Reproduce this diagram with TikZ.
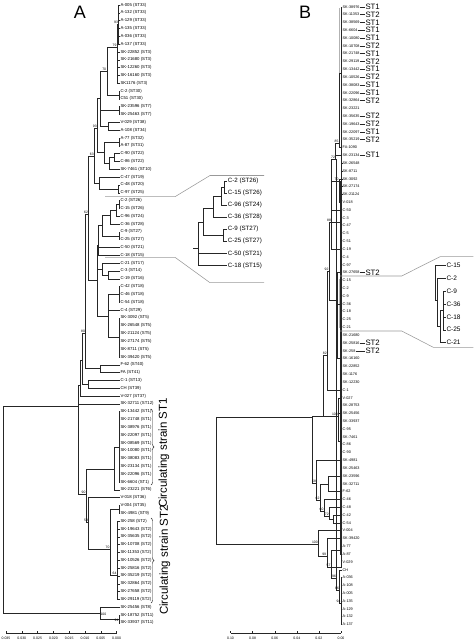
\documentclass[tikz,border=0pt]{standalone}
\usepackage{fontspec}
\setmainfont{Liberation Sans}
\usetikzlibrary{decorations.pathreplacing}
\tikzset{
  tr/.style={draw=black!85, line width=0.35pt},
  co/.style={draw=black!40, line width=0.55pt},
  hl/.style={draw=black!30, line width=1.0pt},
  lfa/.style={anchor=west, inner sep=0.3pt, font=\fontsize{4.3}{5}\selectfont},
  lfb/.style={anchor=west, inner sep=0.3pt, font=\fontsize{3.8}{4.5}\selectfont},
  stl/.style={anchor=west, inner sep=0.3pt, font=\fontsize{7.8}{9}\selectfont},
  bs/.style={anchor=south east, inner sep=0.4pt, font=\fontsize{3.4}{4}\selectfont},
  ila/.style={anchor=west, inner sep=0.6pt, font=\fontsize{6.2}{7}\selectfont},
  ilb/.style={anchor=west, inner sep=0.8pt, font=\fontsize{6.5}{7.5}\selectfont},
  axl/.style={inner sep=0.3pt, font=\fontsize{3.5}{4}\selectfont},
  ttl/.style={inner sep=0pt, font=\fontsize{18}{20}\selectfont},
  cst/.style={rotate=90, inner sep=0pt, font=\fontsize{11.5}{13}\selectfont},
  brc/.style={draw=black!85, line width=0.45pt, decorate, decoration={brace, amplitude=3pt}}
}
\newcommand\ed[2]{\draw[tr] (#1) |- (#2);}
\newcommand\lvA[3]{\foreach \k in {#2,...,#3}{\draw[tr] (#1) |- (a\k.west);}}
\newcommand\lvB[3]{\foreach \k in {#2,...,#3}{\draw[tr] (#1) |- (b\k.west);}}
\newcommand\bsl[2]{\node[bs] (l#1) at (#1) {#2};}
\begin{document}
\begin{tikzpicture}[x=1pt,y=-1pt]
\useasboundingbox (0,0) rectangle (474,643);
% titles
\node[ttl] (tA) at (80,12) {A};
\node[ttl] (tB) at (305,12) {B};
% ---------------- panel A leaves
\foreach \i/\t in {1/A-005 (ST33),2/A-132 (ST33),3/A-129 (ST33),4/A-135 (ST33),5/A-036 (ST33),6/A-137 (ST33),7/SK-22852 (ST3),8/SK-21680 (ST3),9/SK-12260 (ST3),10/SK-16160 (ST3),11/SK1176 (ST3),12/C-2 (ST30),13/C51 (ST30),14/SK-23596 (ST7),15/SK-25463 (ST7),16/V-029 (ST38),17/A-108 (ST34),18/A-77 (ST32),19/A-87 (ST31),20/C-90 (ST22),21/C-86 (ST22),22/SK-7461 (ST10),23/C-47 (ST19),24/C-48 (ST20),25/C-97 (ST25),26/C-2 (ST26),27/C-15 (ST26),28/C-96 (ST24),29/C-36 (ST28),30/C-9 (ST27),31/C-25 (ST27),32/C-50 (ST21),33/C-18 (ST15),34/C-21 (ST17),35/C-3 (ST14),36/C-19 (ST16),37/C-42 (ST18),38/C-46 (ST18),39/C-54 (ST18),40/C-4 (ST29),41/SK-3092 (ST5),42/SK-26548 (ST5),43/SK-21124 (ST5),44/SK-27174 (ST5),45/SK-8711 (ST5),46/SK-39420 (ST5),47/F-62 (ST40),48/FA (ST41),49/C-1 (ST13),50/CH (ST39),51/V-027 (ST37),52/SK-32711 (ST12),53/SK-13442 (ST1),54/SK-21748 (ST1),55/SK-38976 (ST1),56/SK-22097 (ST1),57/SK-08569 (ST1),58/SK-10080 (ST1),59/SK-38083 (ST1),60/SK-23134 (ST1),61/SK-22096 (ST1),62/SK-6604 (ST1),63/SK-23221 (ST6),64/V-018 (ST36),65/V-004 (ST35),66/SK-4981 (ST9),67/SK-258 (ST2),68/SK-19643 (ST2),69/SK-35635 (ST2),70/SK-10708 (ST2),71/SK-11353 (ST2),72/SK-10526 (ST2),73/SK-25816 (ST2),74/SK-35219 (ST2),75/SK-32864 (ST2),76/SK-27658 (ST2),77/SK-29119 (ST2),78/SK-25456 (ST8),79/SK-18752 (ST11),80/SK-33937 (ST11)}
  {\node[lfa] (a\i) at (120,{5+7.82*(\i-1)}) {\t};}
% panel A internal nodes
\coordinate (na1) at (118.6,24.55);
\coordinate (na2) at (117,47);
\coordinate (na3) at (119,94.9);
\coordinate (na4) at (106.7,71);
\coordinate (na5) at (119,110.6);
\coordinate (na6) at (108.3,126.2);
\coordinate (na7) at (100,98);
\coordinate (na8) at (119,141.9);
\coordinate (na9) at (114,157.5);
\coordinate (na10) at (109,163);
\coordinate (na11) at (104,152);
\coordinate (na12) at (97.3,128);
\coordinate (na13) at (118.6,188.8);
\coordinate (na14) at (99,183);
\coordinate (na15) at (94.3,156);
\coordinate (ni1) at (119,204.4);
\coordinate (ni2) at (116,210);
\coordinate (ni3) at (110,215);
\coordinate (ni5) at (119,235.7);
\coordinate (ni4) at (102,225);
\coordinate (ni6) at (97.8,245);
\coordinate (nq1) at (108,274.8);
\coordinate (nq2) at (101.7,269);
\coordinate (nr1) at (119,294.3);
\coordinate (nr2) at (119,337.35);
\coordinate (nr3) at (108.3,316);
\coordinate (ns1) at (96.7,280);
\coordinate (n62) at (88.5,214);
\coordinate (nfp) at (100,368.6);
\coordinate (n80) at (85.5,333);
\coordinate (nch) at (88,384.3);
\coordinate (nu) at (82,360);
\coordinate (nv) at (80,385);
\coordinate (nst1) at (119,446.8);
\coordinate (nk1) at (114,469);
\coordinate (nvp) at (119,509.4);
\coordinate (nst2) at (117,575);
\coordinate (nw1) at (110,549);
\coordinate (nw2) at (88.5,522);
\coordinate (nk2) at (86,494);
\coordinate (nT) at (77.7,406);
\coordinate (nb1) at (119,618.9);
\coordinate (nb2) at (100,613);
\coordinate (nR) at (3.3,509.5);
% panel A edges
\lvA{na1}{1}{6} \ed{na2}{na1} \lvA{na2}{7}{11} \lvA{na3}{12}{13}
\ed{na4}{na2} \ed{na4}{na3} \lvA{na5}{14}{15} \lvA{na6}{16}{17}
\ed{na7}{na4} \ed{na7}{na5} \ed{na7}{na6}
\lvA{na8}{18}{19} \lvA{na9}{20}{21} \ed{na10}{na9} \lvA{na10}{22}{22}
\ed{na11}{na8} \ed{na11}{na10} \ed{na12}{na7} \ed{na12}{na11}
\lvA{na13}{24}{25} \lvA{na14}{23}{23} \ed{na14}{na13}
\ed{na15}{na12} \ed{na15}{na14}
\lvA{ni1}{26}{27} \ed{ni2}{ni1} \lvA{ni2}{28}{28} \ed{ni3}{ni2} \lvA{ni3}{29}{29}
\lvA{ni5}{30}{31} \ed{ni4}{ni3} \ed{ni4}{ni5} \ed{ni6}{ni4} \lvA{ni6}{32}{33}
\lvA{nq1}{35}{36} \ed{nq2}{nq1} \lvA{nq2}{34}{34}
\lvA{nr1}{37}{39} \lvA{nr2}{41}{46} \ed{nr3}{nr1} \ed{nr3}{nr2} \lvA{nr3}{40}{40}
\ed{ns1}{ni6} \ed{ns1}{nq2} \ed{ns1}{nr3}
\ed{n62}{na15} \ed{n62}{ns1}
\lvA{nfp}{47}{48}
\ed{n80}{n62} \ed{n80}{nfp}
\lvA{nch}{49}{50}
\ed{nu}{n80} \ed{nu}{nch}
\ed{nv}{nu} \lvA{nv}{51}{51}
\lvA{nst1}{53}{62} \ed{nk1}{nst1} \lvA{nk1}{63}{63}
\lvA{nvp}{65}{66} \lvA{nst2}{67}{77} \ed{nw1}{nvp} \ed{nw1}{nst2}
\ed{nw2}{nw1} \lvA{nw2}{64}{64}
\ed{nk2}{nk1} \ed{nk2}{nw2}
\ed{nT}{nv} \lvA{nT}{52}{52} \ed{nT}{nk2}
\lvA{nb1}{79}{80} \ed{nb2}{nb1} \lvA{nb2}{78}{78}
\ed{nR}{nT} \ed{nR}{nb2}
% bootstrap A
\bsl{na1}{93} \bsl{na2}{79} \bsl{na4}{70} \bsl{na12}{93} \bsl{na15}{63}
\bsl{n62}{62} \bsl{n80}{80} \bsl{nk2}{90} \bsl{nw2}{59} \bsl{nw1}{70} \bsl{nst2}{64}
\node[bs, anchor=north west] (lnb2) at (nb2) {100};
\node[bs, anchor=north east] (lnb1) at (nb1) {91};
% inset A
\foreach \k/\t in {1/C-2 (ST26),2/C-15 (ST26),3/C-96 (ST24),4/C-36 (ST28),5/C-9 (ST27),6/C-25 (ST27),7/C-50 (ST21),8/C-18 (ST15)}
  {\node[ila] (ia\k) at (227,{181+12.07*(\k-1)}) {\t};}
\coordinate (iA1) at (224,187);
\coordinate (iA2) at (220.7,196);
\coordinate (iA3) at (213.3,208);
\coordinate (iA5) at (222.7,235.3);
\coordinate (iA4) at (203.3,222);
\coordinate (iA6) at (198.3,248);
\coordinate (iA0) at (193,248);
\draw[tr] (iA1) |- (ia1.west); \draw[tr] (iA1) |- (ia2.west);
\ed{iA2}{iA1} \draw[tr] (iA2) |- (ia3.west);
\ed{iA3}{iA2} \draw[tr] (iA3) |- (ia4.west);
\draw[tr] (iA5) |- (ia5.west); \draw[tr] (iA5) |- (ia6.west);
\ed{iA4}{iA3} \ed{iA4}{iA5}
\ed{iA6}{iA4} \draw[tr] (iA6) |- (ia7.west); \draw[tr] (iA6) |- (ia8.west);
\draw[tr] (iA0) -- (iA6);
% callout A
\coordinate (ca1) at (105,196.7); \coordinate (ca2) at (175,196.7);
\coordinate (ca3) at (210,175.5); \coordinate (ca4) at (264,175.5);
\coordinate (cb1) at (105,257.3); \coordinate (cb2) at (175,257.3);
\coordinate (cb3) at (210,282.7); \coordinate (cb4) at (264,282.7);
\draw[co] (ca1) -- (ca2) -- (ca3) -- (ca4);
\draw[co] (cb1) -- (cb2) -- (cb3) -- (cb4);
% braces + circulating strain text
\coordinate (br1a) at (151,409); \coordinate (br1b) at (151,485);
\coordinate (br2a) at (151,518); \coordinate (br2b) at (151,603);
\draw[brc] (br1a) -- (br1b);
\draw[brc] (br2a) -- (br2b);
\node[cst] (cs1) at (164,453) {Circulating strain ST1};
\node[cst] (cs2) at (165,560) {Circulating strain ST2};
% axis A
\coordinate (axA0) at (6,633); \coordinate (axA1) at (116.6,633);
\draw[tr] (axA0) -- (axA1);
\foreach \k/\t in {0/0.035,1/0.030,2/0.025,3/0.020,4/0.015,5/0.010,6/0.005,7/0.000}
  {\coordinate (tka\k) at ({6+15.8*\k},631.2);
   \draw[tr] (tka\k) -- ++(0,1.8);
   \node[axl] (xla\k) at ({6+15.8*\k},637.8) {\t};}
% ---------------- panel B
\draw[hl] (339.6,8) -- (339.6,139);
\draw[hl] (339.4,279) -- (339.4,328);
\foreach \i/\t in {1/SK-38976,2/SK-11353,3/SK-38569,4/SK-6604,5/SK-10080,6/SK-10708,7/SK-21748,8/SK-29119,9/SK-13442,10/SK-10526,11/SK-38083,12/SK-22096,13/SK-32864,14/SK-23221,15/SK-35635,16/SK-19643,17/SK-22097,18/SK-35219,19/FA-1090,20/SK-23134,21/SK-26548,22/SK-8711,23/SK-3092,24/SK-27174,25/SK-21124,26/V-018,27/C-50,28/C-3,29/C-47,30/C-5,31/C-51,32/C-19,33/C-4,34/C-97,35/SK-27658,36/C-15,37/C-2,38/C-9,39/C-36,40/C-18,41/C-25,42/C-21,43/SK-21680,44/SK-25816,45/SK-258,46/SK-16160,47/SK-22852,48/SK-1176,49/SK-12230,50/C-1,51/V-027,52/SK-28753,53/SK-25456,54/SK-33937,55/C-95,56/SK-7461,57/C-86,58/C-90,59/SK-4981,60/SK-25463,61/SK-23596,62/SK-32711,63/F-62,64/C-46,65/C-48,66/C-42,67/C-54,68/V-004,69/SK-39420,70/A-77,71/A-87,72/V-029,73/CH,74/A-036,75/A-108,76/A-005,77/A-135,78/A-129,79/A-132,80/A-137}
  {\node[lfb] (b\i) at (342.2,{6.7+7.82*(\i-1)}) {\t};}
\foreach \i/\t in {1/ST1,2/ST2,3/ST1,4/ST1,5/ST1,6/ST2,7/ST1,8/ST2,9/ST1,10/ST2,11/ST1,12/ST1,13/ST2,15/ST2,16/ST2,17/ST1,18/ST2,20/ST1,35/ST2,44/ST2,45/ST2}
  {\node[stl] (s\i) at (365,{6.7+7.82*(\i-1)}) {\t};
   \draw[tr] (b\i.east) -- (s\i.west);}
\coordinate (bst) at (341,73.2);
\coordinate (b85) at (339,143);
\coordinate (b72) at (335.5,159);
\coordinate (bsk5) at (341.5,178.7);
\coordinate (b70) at (339,181);
\coordinate (bC3) at (341,221.75);
\coordinate (bC5) at (340.5,249.1);
\coordinate (b88) at (331.5,222);
\coordinate (bC15) at (340.3,303.9);
\coordinate (bSK) at (340.5,358.6);
\coordinate (bX) at (337.5,300);
\coordinate (b92) at (329,271);
\coordinate (b82) at (327.3,355);
\coordinate (b3) at (341,413.3);
\coordinate (b4) at (341,440.7);
\coordinate (b100) at (338.3,416);
\coordinate (bU) at (322.7,416.5);
\coordinate (bL1) at (341,475.9);
\coordinate (bL2) at (328.3,484);
\coordinate (bL3) at (333.3,518.9);
\coordinate (bL4) at (329.3,516);
\coordinate (bL5) at (324,511);
\coordinate (bL6) at (320,500);
\coordinate (bL7) at (316.5,483);
\coordinate (bT) at (311.7,416.7);
\coordinate (bAA) at (340.5,550.2);
\coordinate (bA) at (341,603);
\coordinate (bCH) at (339.5,590);
\coordinate (bV) at (336.5,578);
\coordinate (b57) at (331,567);
\coordinate (b99) at (326.7,556);
\coordinate (bB) at (318.3,544);
\coordinate (bR) at (216,480);
\lvB{bst}{1}{18} \ed{b85}{bst} \lvB{b85}{19}{19} \ed{b72}{b85} \lvB{b72}{20}{20}
\lvB{bsk5}{21}{25} \ed{b70}{bsk5} \lvB{b70}{26}{26}
\lvB{bC3}{28}{29} \lvB{bC5}{30}{34}
\ed{b88}{b72} \ed{b88}{b70} \lvB{b88}{27}{27} \ed{b88}{bC3} \ed{b88}{bC5}
\lvB{bC15}{36}{42} \lvB{bSK}{43}{49} \lvB{bX}{35}{35} \ed{bX}{bC15} \ed{bX}{bSK}
\ed{b92}{b88} \ed{b92}{bX}
\ed{b82}{b92} \lvB{b82}{50}{50}
\lvB{b3}{52}{54} \lvB{b4}{55}{58} \lvB{b100}{51}{51} \ed{b100}{b3} \ed{b100}{b4}
\ed{bU}{b82} \ed{bU}{b100}
\lvB{bL1}{60}{62} \ed{bL2}{bL1} \lvB{bL2}{63}{63}
\lvB{bL3}{66}{67} \ed{bL4}{bL3} \lvB{bL4}{65}{65}
\ed{bL5}{bL4} \lvB{bL5}{64}{64}
\ed{bL6}{bL2} \ed{bL6}{bL5}
\ed{bL7}{bL6} \lvB{bL7}{59}{59}
\ed{bT}{bU} \ed{bT}{bL7}
\lvB{bAA}{70}{71} \lvB{bA}{74}{80} \ed{bCH}{bA} \lvB{bCH}{73}{73}
\ed{bV}{bCH} \lvB{bV}{72}{72}
\ed{b57}{bAA} \ed{b57}{bV}
\ed{b99}{b57} \lvB{b99}{69}{69}
\ed{bB}{b99} \lvB{bB}{68}{68}
\ed{bR}{bT} \ed{bR}{bB}
% bootstrap B
\bsl{b85}{85} \bsl{b72}{72} \bsl{b70}{70} \bsl{b88}{88} \bsl{b92}{92} \bsl{b82}{82}
\bsl{b100}{100} \bsl{bL7}{58} \bsl{bL6}{62} \bsl{bL5}{60} \bsl{bL4}{72}
\bsl{bB}{100} \bsl{b99}{99} \bsl{b57}{57} \bsl{bV}{96} \bsl{bCH}{86} \bsl{bA}{94}
% inset B
\foreach \k/\t in {1/C-15,2/C-2,3/C-9,4/C-36,5/C-18,6/C-25,7/C-21}
  {\node[ilb] (ib\k) at (445.5,{265.5+12.85*(\k-1)}) {\t};}
\coordinate (biA) at (443,310.5);
\coordinate (biB) at (440.5,326);
\coordinate (biC) at (437.5,300);
\coordinate (biD) at (435.3,283);
\foreach \k in {3,...,6}{\draw[tr] (biA) |- (ib\k.west);}
\ed{biB}{biA} \draw[tr] (biB) |- (ib7.west);
\ed{biC}{biB} \draw[tr] (biC) |- (ib2.west);
\ed{biD}{biC} \draw[tr] (biD) |- (ib1.west);
% callout B
\coordinate (cc1) at (340,276); \coordinate (cc2) at (401.7,276);
\coordinate (cc3) at (440,256.7); \coordinate (cc4) at (473.3,256.7);
\coordinate (cd1) at (340,331); \coordinate (cd2) at (401.7,331);
\coordinate (cd3) at (433.3,347.3); \coordinate (cd4) at (473.3,347.3);
\draw[co] (cc1) -- (cc2) -- (cc3) -- (cc4);
\draw[co] (cd1) -- (cd2) -- (cd3) -- (cd4);
% axis B
\coordinate (axB0) at (230.5,633); \coordinate (axB1) at (341,633);
\draw[tr] (axB0) -- (axB1);
\foreach \k/\t in {0/0.10,1/0.08,2/0.06,3/0.04,4/0.02,5/0.00}
  {\coordinate (tkb\k) at ({230.5+22.1*\k},631.2);
   \draw[tr] (tkb\k) -- ++(0,1.8);
   \node[axl] (xlb\k) at ({230.5+22.1*\k},637.8) {\t};}
\end{tikzpicture}
\end{document}
